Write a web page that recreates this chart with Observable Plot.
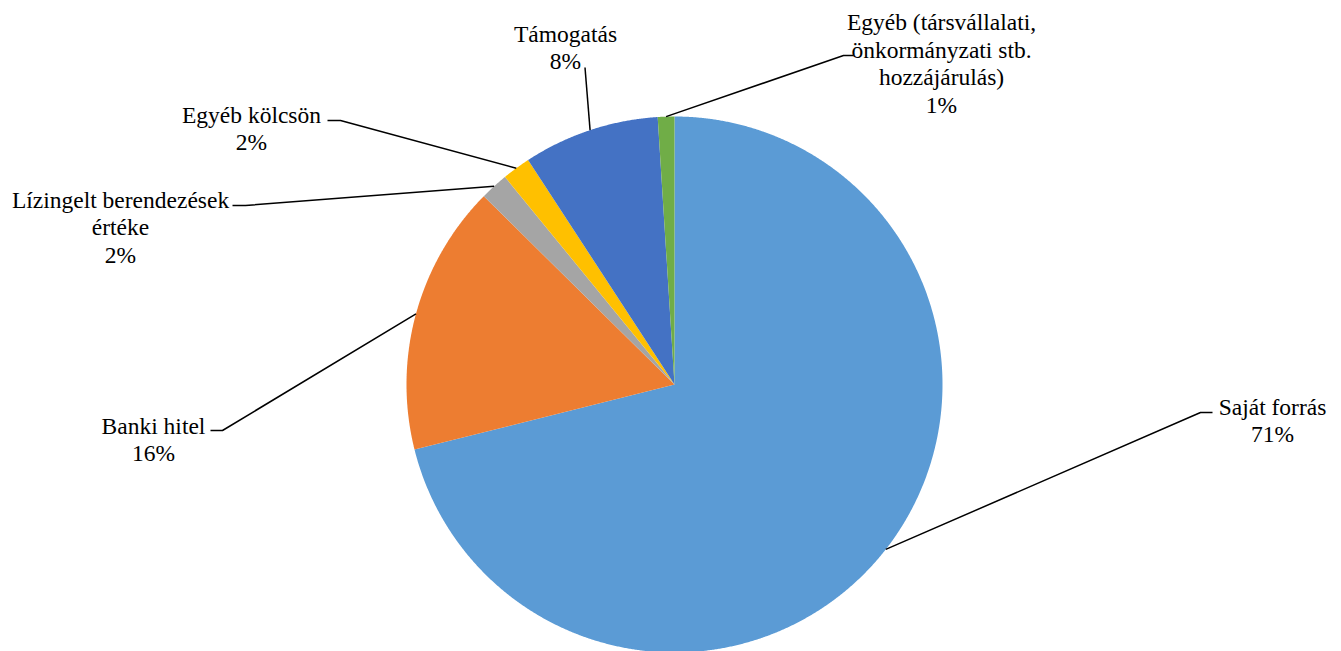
<!DOCTYPE html>
<html>
<head>
<meta charset="utf-8">
<script src="https://cdn.jsdelivr.net/npm/d3@7"></script>
<script src="https://cdn.jsdelivr.net/npm/@observablehq/plot@0.6"></script>
<style>
  html, body { margin: 0; padding: 0; background: #fff; }
  #chart svg { display: block; }
  #chart svg text { font-family: "Liberation Serif", "Times New Roman", "DejaVu Serif", serif !important; }
</style>
</head>
<body>
<div id="chart"></div>
<script>
// ---- data ----
const categories = [
  "Saját forrás",
  "Banki hitel",
  "Lízingelt berendezések\nértéke",
  "Egyéb kölcsön",
  "Támogatás",
  "Egyéb (társvállalati,\nönkormányzati stb.\nhozzájárulás)"
];
const shares = [71.1, 16.3, 1.7, 1.7, 8.2, 1.0];
const colors = ["#5B9BD5", "#ED7D31", "#A5A5A5", "#FFC000", "#4472C4", "#70AD47"];

// ---- label layout (Excel's manually placed data labels), in px relative to pie centre ----
const labelCenter = [[598, -35], [-521, -54], [-554, 158], [-423, 257], [-109, 338], [267, 322]];
const leaderBends = [
  [[526, -28], [538, -28]],
  [[-452, -46], [-464, -46]],
  [[-429, 179], [-442, 179]],
  [[-334, 264], [-347, 264]],
  [[-89.5, 317]],
  [[169, 329], [179, 329]]
];

const R = 268;
const total = d3.sum(shares);
const arcs = d3.pie().sort(null).value(d => d)(shares);

const slices = [];
arcs.forEach((p, i) => {
  const k = categories[i];
  slices.push({k, x: 0, y: 0});
  const n = Math.max(2, Math.ceil((p.endAngle - p.startAngle) / 0.004));
  for (let j = 0; j <= n; j++) {
    const a = p.startAngle + (p.endAngle - p.startAngle) * j / n;
    slices.push({k, x: R * Math.sin(a), y: R * Math.cos(a)});
  }
  slices.push({k, x: 0, y: 0});
});

const leaders = [];
arcs.forEach((p, i) => {
  const k = categories[i];
  const m = (p.startAngle + p.endAngle) / 2;
  leaders.push({k, x: R * Math.sin(m), y: R * Math.cos(m)});
  leaderBends[i].forEach(([x, y]) => leaders.push({k, x, y}));
});

const labels = categories.map((c, i) => ({
  x: labelCenter[i][0],
  y: labelCenter[i][1],
  text: c + "\n" + Math.round(shares[i] / total * 100) + "%"
}));

const chart = Plot.plot({
  width: 1341,
  height: 651,
  margin: 0,
  x: {domain: [-674, 667], axis: null},
  y: {domain: [-267, 384], axis: null},
  color: {type: "ordinal", domain: categories, range: colors},
  style: {background: "#fff", fontFamily: "Liberation Serif, serif"},
  marks: [
    Plot.line(slices, {x: "x", y: "y", z: "k", fill: "k", stroke: "none"}),
    Plot.line(leaders, {x: "x", y: "y", z: "k", stroke: "#000", strokeWidth: 1.5, strokeLinecap: "butt"}),
    Plot.text(labels, {
      x: "x", y: "y", text: "text",
      fontSize: 23.5, fontFamily: "Liberation Serif",
      lineHeight: 1.17, lineAnchor: "middle", textAnchor: "middle",
      fill: "#000"
    })
  ]
});
document.getElementById("chart").appendChild(chart);
</script>
</body>
</html>
